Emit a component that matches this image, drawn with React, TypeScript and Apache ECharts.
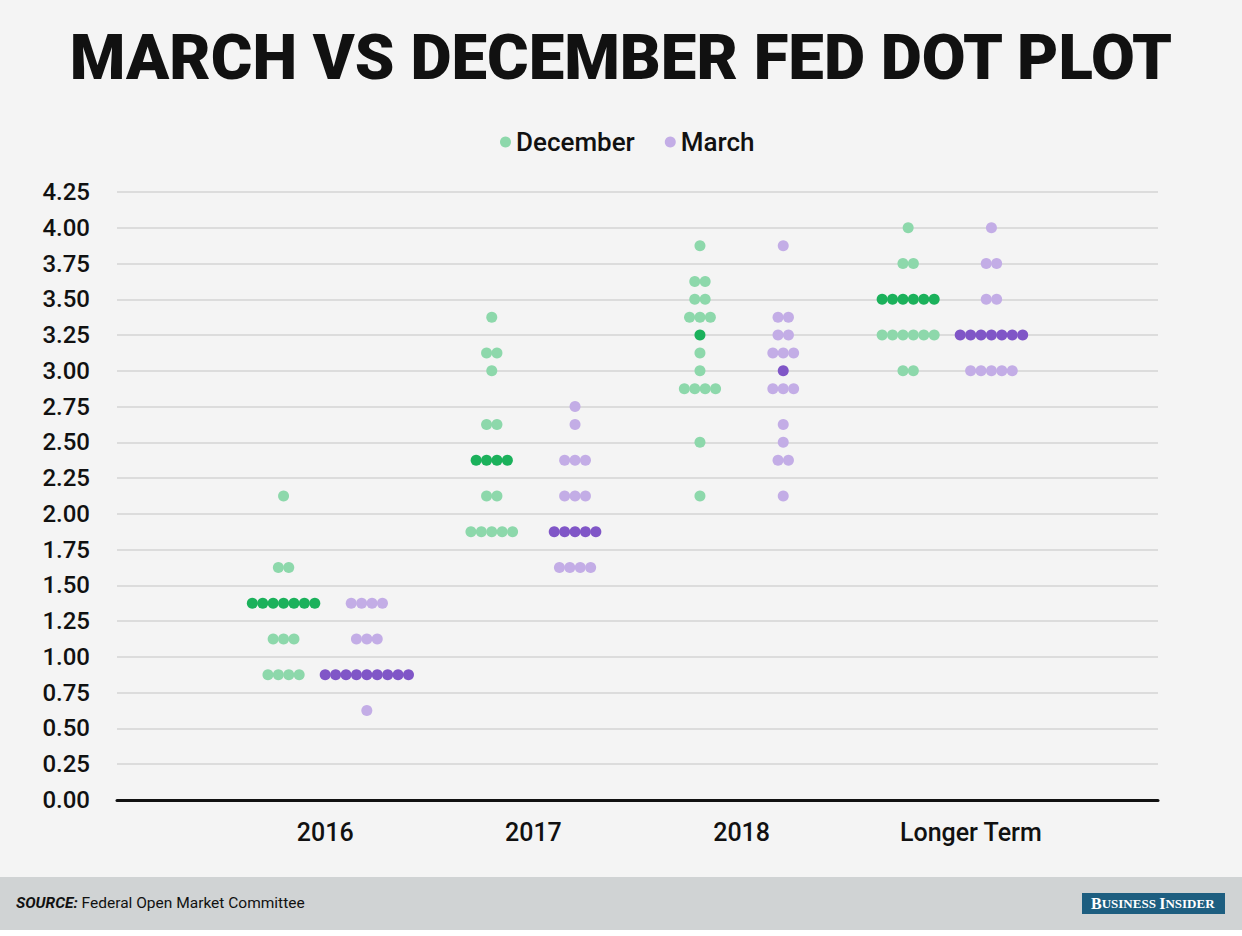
import React, { useEffect, useRef } from "react";
import * as echarts from "echarts";

const categories = ["2016", "2017", "2018", "Longer Term"];

// [rate, number of participants]
const december2016 = [[2.125, 1], [1.625, 2], [1.375, 7], [1.125, 3], [0.875, 4]];
const march2016 = [[1.375, 4], [1.125, 3], [0.875, 9], [0.625, 1]];
const december2017 = [[3.375, 1], [3.125, 2], [3.0, 1], [2.625, 2], [2.375, 4], [2.125, 2], [1.875, 5]];
const march2017 = [[2.75, 1], [2.625, 1], [2.375, 3], [2.125, 3], [1.875, 5], [1.625, 4]];
const december2018 = [[3.875, 1], [3.625, 2], [3.5, 2], [3.375, 3], [3.25, 1], [3.125, 1], [3.0, 1], [2.875, 4], [2.5, 1], [2.125, 1]];
const march2018 = [[3.875, 1], [3.375, 2], [3.25, 2], [3.125, 3], [3.0, 1], [2.875, 3], [2.625, 1], [2.5, 1], [2.375, 2], [2.125, 1]];
const decemberLonger = [[4.0, 1], [3.75, 2], [3.5, 6], [3.25, 6], [3.0, 2]];
const marchLonger = [[4.0, 1], [3.75, 2], [3.5, 2], [3.25, 7], [3.0, 5]];

const decemberMedians = [1.375, 2.375, 3.25, 3.5];
const marchMedians = [0.875, 1.875, 3.0, 3.25];

const decemberGroups = [december2016, december2017, december2018, decemberLonger];
const marchGroups = [march2016, march2017, march2018, marchLonger];

const GROUP_OFFSET = 0.2;
const DOT_STEP = 0.05;

function buildDots(groups: number[][][], medians: number[], offset: number) {
  const light: number[][] = [];
  const dark: number[][] = [];
  groups.forEach((rows, gi) => {
    const center = gi + 1 + offset;
    rows.forEach(([rate, n]) => {
      for (let k = 0; k < n; k++) {
        const x = center + (k - (n - 1) / 2) * DOT_STEP;
        if (rate === medians[gi]) dark.push([x, rate]);
        else light.push([x, rate]);
      }
    });
  });
  return { light, dark };
}

const GREEN_LIGHT = "#8dd8ab";
const GREEN_DARK = "#1bb15b";
const PURPLE_LIGHT = "#c3ade6";
const PURPLE_DARK = "#8056c7";

export default function App() {
  const ref = useRef<HTMLDivElement>(null);
  useEffect(() => {
    if (!ref.current) return;
    const chart = echarts.init(ref.current, undefined, { renderer: "svg" });
    const dec = buildDots(decemberGroups, decemberMedians, -GROUP_OFFSET);
    const mar = buildDots(marchGroups, marchMedians, GROUP_OFFSET);
    const font = "Roboto";
    chart.setOption({
      animation: false,
      backgroundColor: "#f4f4f4",
      title: {
        text: "MARCH VS DECEMBER FED DOT PLOT",
        left: "center",
        top: 20,
        textStyle: { fontFamily: font, fontWeight: 900, fontSize: 63.5, color: "#111" },
      },
      legend: {
        top: 124,
        left: 495,
        itemWidth: 11,
        itemHeight: 11,
        itemGap: 30,
        icon: "circle",
        data: [
          { name: "December", itemStyle: { color: GREEN_LIGHT } },
          { name: "March", itemStyle: { color: PURPLE_LIGHT } },
        ],
        textStyle: { fontFamily: font, fontWeight: 500, fontSize: 26, color: "#111" },
      },
      grid: { left: 117, right: 84, top: 192, bottom: 136 },
      xAxis: {
        type: "value",
        min: 0,
        max: 5,
        interval: 1,
        splitLine: { show: false },
        axisTick: { show: false },
        axisLine: { show: true, lineStyle: { color: "#111", width: 3 } },
        axisLabel: {
          margin: 20,
          fontFamily: font,
          fontWeight: 500,
          fontSize: 25,
          color: "#111",
          formatter: (v: number) => {
            if (v < 1 || v > categories.length) return "";
            if (v === 4) return "{lt|" + categories[v - 1] + "}";
            return categories[v - 1];
          },
          rich: {
            lt: { fontFamily: font, fontWeight: 500, fontSize: 25, color: "#111", padding: [0, 0, 0, 42] },
          },
        },
      },
      yAxis: {
        type: "value",
        min: 0,
        max: 4.25,
        interval: 0.25,
        axisLine: { show: false },
        axisTick: { show: false },
        splitLine: { show: true, lineStyle: { color: "#dcdcdc", width: 2 } },
        axisLabel: {
          margin: 27,
          fontFamily: font,
          fontWeight: 500,
          fontSize: 24,
          color: "#111",
          formatter: (v: number) => v.toFixed(2),
        },
      },
      series: [
        { name: "December", type: "scatter", symbolSize: 11, itemStyle: { color: GREEN_LIGHT, opacity: 1 }, data: dec.light, z: 3 },
        { name: "March", type: "scatter", symbolSize: 11, itemStyle: { color: PURPLE_LIGHT, opacity: 1 }, data: mar.light, z: 3 },
        { name: "December median", type: "scatter", symbolSize: 11, itemStyle: { color: GREEN_DARK, opacity: 1 }, data: dec.dark, z: 4 },
        { name: "March median", type: "scatter", symbolSize: 11, itemStyle: { color: PURPLE_DARK, opacity: 1 }, data: mar.dark, z: 4 },
      ],
      graphic: [
        { type: "rect", left: 0, top: 877, shape: { width: 1242, height: 53 }, style: { fill: "#d0d3d4" }, z: 1 },
        { type: "rect", left: 0, top: 930, shape: { width: 1242, height: 6 }, style: { fill: "#ffffff" }, z: 1 },
        {
          type: "text",
          left: 16,
          top: 895,
          z: 2,
          style: {
            text: "{b|SOURCE:} Federal Open Market Committee",
            fontFamily: font,
            fontSize: 15.5,
            fill: "#111",
            rich: { b: { fontFamily: font, fontWeight: "bold", fontStyle: "italic", fontSize: 15.5, fill: "#111" } },
          },
        },
        { type: "rect", left: 1082, top: 893, shape: { width: 143, height: 21 }, style: { fill: "#1d5e80" }, z: 2 },
        {
          type: "text",
          left: 1091,
          top: 895,
          z: 3,
          style: {
            text: "{a|B}{b|USINESS} {a|I}{b|NSIDER}",
            fill: "#fff",
            rich: {
              a: { fontFamily: "Liberation Serif", fontWeight: "bold", fontSize: 16, fill: "#fff" },
              b: { fontFamily: "Liberation Serif", fontWeight: "bold", fontSize: 13, fill: "#fff" },
            },
          },
        },
      ],
    });
    return () => chart.dispose();
  }, []);
  return <div ref={ref} style={{ position: "fixed", left: 0, top: 0, width: 1242, height: 936 }} />;
}
